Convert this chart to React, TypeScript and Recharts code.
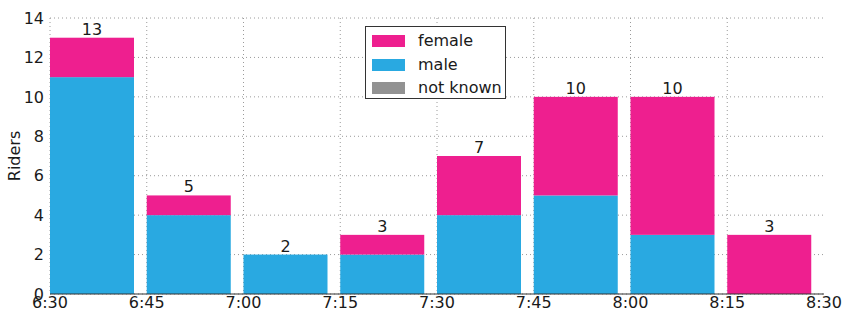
import { Bar, BarChart, CartesianGrid, LabelList, XAxis, YAxis } from "recharts";

const BINS = ["6:30", "6:45", "7:00", "7:15", "7:30", "7:45", "8:00", "8:15"];
const TIME_LABELS = ["6:30", "6:45", "7:00", "7:15", "7:30", "7:45", "8:00", "8:15", "8:30"];
const FEMALE = [2, 1, 0, 1, 3, 5, 7, 3];
const MALE = [11, 4, 2, 2, 4, 5, 3, 0];
const NOT_KNOWN = [0, 0, 0, 0, 0, 0, 0, 0];
const Y_TICKS = [0, 2, 4, 6, 8, 10, 12, 14];

const COLORS = { female: "#ee1f8f", male: "#29a9e1", notKnown: "#929292" };
const FONT = "'DejaVu Sans', sans-serif";
const TEXT = "#1a1a1a";

// share of each 15 min band left empty on each side of a bar
const GAP = 0.066;

const data = BINS.map((bin, i) => ({
  bin,
  idx: i,
  male: MALE[i],
  notKnown: NOT_KNOWN[i],
  female: FEMALE[i],
  total: MALE[i] + NOT_KNOWN[i] + FEMALE[i],
}));

// bars sit at the left edge of their time slot, like matplotlib's align="edge"
const shiftOf = (w: number) => (w * GAP) / (1 - 2 * GAP);

function EdgeBar(props: any) {
  const { x, y, width, height, fill } = props;
  if (!height || height <= 0) return null;
  return <rect x={x - shiftOf(width)} y={y} width={width} height={height} fill={fill} />;
}

function TotalLabel(props: any) {
  const { x, y, width, value } = props;
  return (
    <text x={x + width / 2 - shiftOf(width)} y={y - 3} textAnchor="middle" fontFamily={FONT} fontSize={16} fill={TEXT}>
      {value}
    </text>
  );
}

const LEGEND = [
  { label: "female", color: COLORS.female },
  { label: "male", color: COLORS.male },
  { label: "not known", color: COLORS.notKnown },
];

const tickStyle = { fontSize: 16, fill: TEXT, fontFamily: FONT };

export default function App() {
  return (
    <div style={{ position: "fixed", left: 0, top: 0, width: 847, height: 318, background: "#fff" }}>
      <BarChart width={847} height={318} data={data} margin={{ top: 18, right: 23, left: 0, bottom: 0 }} barCategoryGap={`${GAP * 100}%`}>
        <XAxis
          xAxisId="time"
          dataKey="idx"
          type="number"
          domain={[0, 8]}
          ticks={[0, 1, 2, 3, 4, 5, 6, 7, 8]}
          interval={0}
          tickFormatter={(v) => TIME_LABELS[v]}
          tick={tickStyle}
          tickLine={false}
          tickSize={0}
          tickMargin={3}
          height={24}
          axisLine={{ stroke: "#333" }}
          allowDataOverflow
        />
        <XAxis xAxisId="cat" dataKey="bin" type="category" hide height={0} />
        <YAxis
          type="number"
          domain={[0, 14]}
          ticks={Y_TICKS}
          interval={0}
          width={50}
          tick={tickStyle}
          tickLine={false}
          tickSize={0}
          tickMargin={6}
          axisLine={false}
          label={{
            value: "Riders",
            content: (p: any) => (
              <text
                x={14}
                y={p.viewBox.y + p.viewBox.height / 2}
                transform={`rotate(-90 14 ${p.viewBox.y + p.viewBox.height / 2})`}
                textAnchor="middle"
                dominantBaseline="central"
                fontFamily={FONT}
                fontSize={16}
                fill={TEXT}
              >
                Riders
              </text>
            ),
          }}
        />
        <Bar xAxisId="cat" dataKey="male" stackId="a" fill={COLORS.male} shape={EdgeBar} isAnimationActive={false} />
        <Bar xAxisId="cat" dataKey="notKnown" stackId="a" fill={COLORS.notKnown} shape={EdgeBar} isAnimationActive={false} />
        <Bar xAxisId="cat" dataKey="female" stackId="a" fill={COLORS.female} shape={EdgeBar} isAnimationActive={false}>
          <LabelList dataKey="total" content={TotalLabel} />
        </Bar>
        <CartesianGrid xAxisId="time" stroke="#9a9a9a" strokeDasharray="1 3" verticalValues={[0, 1, 2, 3, 4, 5, 6, 7]} />
      </BarChart>
      <div
        style={{
          position: "absolute",
          left: 365,
          top: 26,
          width: 141,
          height: 73,
          border: "1px solid #333",
          background: "#fff",
          fontFamily: FONT,
          fontSize: 16,
          color: TEXT,
          boxSizing: "border-box",
        }}
      >
        {LEGEND.map((item, i) => (
          <div key={item.label} style={{ position: "absolute", left: 6, top: 6 + i * 23.5, height: 16, display: "flex", alignItems: "center" }}>
            <span style={{ display: "inline-block", width: 33, height: 12, background: item.color, marginRight: 13 }} />
            <span style={{ lineHeight: "16px" }}>{item.label}</span>
          </div>
        ))}
      </div>
    </div>
  );
}
